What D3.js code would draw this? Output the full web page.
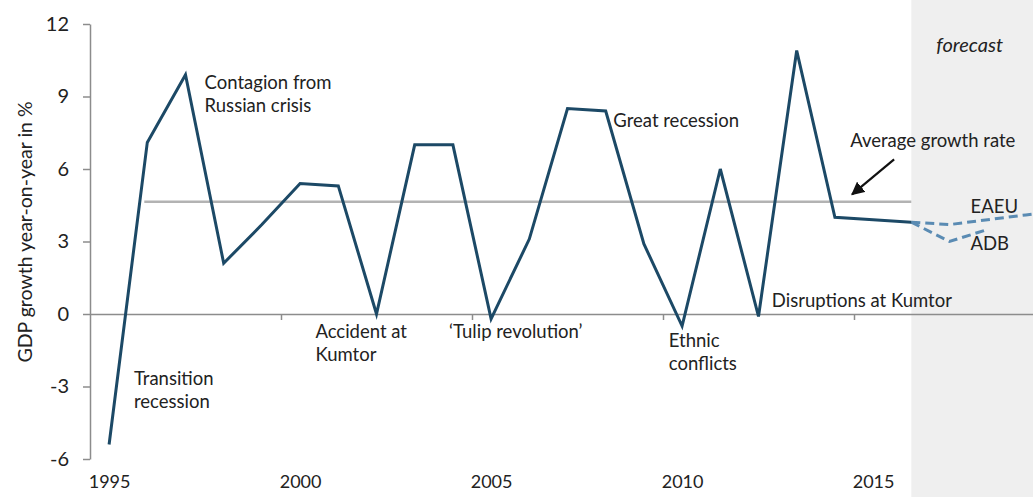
<!DOCTYPE html>
<html><head><meta charset="utf-8">
<script src="https://cdn.jsdelivr.net/npm/d3@7"></script>
<style>
body{margin:0;background:#fff;}
svg text{font-family:Lato,"Open Sans",sans-serif;fill:#222;}
</style></head>
<body><svg id="c" width="1033" height="497"></svg>
<script>
const years = [1995,1996,1997,1998,1999,2000,2001,2002,2003,2004,2005,2006,2007,2008,2009,2010,2011,2012,2013,2014,2015,2016];
const gdp = [-5.4,7.1,9.9,2.1,3.7,5.4,5.3,0.0,7.0,7.0,-0.2,3.1,8.5,8.4,2.9,-0.5,6.0,-0.1,10.9,4.0,3.9,3.8];
const eaeuYears = [2016,2017,2018,2019,2020];
const eaeu = [3.8,3.7,3.9,4.1,4.3];
const adbYears = [2016,2017,2018];
const adb = [3.8,3.0,3.5];
const avgYears = [1996,2016];
const avgValue = 4.65;
const yTicks = [-6,-3,0,3,6,9,12];
const xLabelYears = [1995,2000,2005,2010,2015];
const xTickBounds = [1999.5,2004.5,2009.5,2014.5];
const forecastStart = 2016;
const annotations = [
  {lines:["Contagion from","Russian crisis"], year:1997.5, value:9.3},
  {lines:["Great recession"], year:2008.2, value:7.75},
  {lines:["Average growth rate"], year:2014.4, value:6.9},
  {lines:["EAEU"], year:2017.55, value:4.2},
  {lines:["ADB"], year:2017.55, value:2.65},
  {lines:["Transition","recession"], year:1995.65, value:-2.95},
  {lines:["Accident at","Kumtor"], year:2000.4, value:-0.98},
  {lines:["\u2018Tulip revolution\u2019"], year:2003.9, value:-0.98},
  {lines:["Ethnic","conflicts"], year:2009.65, value:-1.37},
  {lines:["Disruptions at Kumtor"], year:2012.35, value:0.28}
];

const svg = d3.select("#c");
const x = d3.scaleLinear().domain([1994.5, 2019.5]).range([90, 1045]);
const y = d3.scaleLinear().domain([-6, 12]).range([459, 24]);

// forecast band
svg.append("rect").attr("x", x(forecastStart)).attr("y", 0)
  .attr("width", 1033 - x(forecastStart)).attr("height", 497).attr("fill", "#efefef");
svg.append("text").attr("x", x(forecastStart) + 25).attr("y", 52)
  .attr("font-style","italic").attr("font-size", 20).text("forecast");

// y axis
const ya = svg.append("g").attr("transform", `translate(${x(1994.5)},0)`)
  .call(d3.axisLeft(y).tickValues(yTicks).tickSize(7).tickSizeOuter(0).tickPadding(14).tickFormat(d => String(d)));
ya.selectAll("path,line").attr("stroke", "#8c8c8c").attr("stroke-width", 1.5);
ya.selectAll("text").attr("font-size", 20).attr("fill","#222");

// x axis at zero
const xa = svg.append("g").attr("transform", `translate(0,${y(0)})`)
  .call(d3.axisBottom(x).tickValues(xTickBounds).tickSize(6).tickSizeOuter(0).tickFormat(""));
xa.selectAll("path,line").attr("stroke", "#8c8c8c").attr("stroke-width", 1.5);

// x labels at bottom
const xl = svg.append("g").attr("transform", `translate(0,474)`)
  .call(d3.axisBottom(x).tickValues(xLabelYears).tickSize(0).tickPadding(0).tickFormat(d => String(d)));
xl.select(".domain").remove();
xl.selectAll("text").attr("font-size", 18).attr("fill","#222").attr("dy","0.75em");

// y title
svg.append("text").attr("transform", `translate(32,232) rotate(-90)`)
  .attr("text-anchor","middle").attr("font-size", 19.5).text("GDP growth year-on-year in %");

// average line
svg.append("line").attr("x1", x(avgYears[0]) - 3).attr("x2", x(avgYears[1]))
  .attr("y1", y(avgValue)).attr("y2", y(avgValue))
  .attr("stroke", "#b3b3b3").attr("stroke-width", 2.5);

const line = d3.line().x(d => x(d[0])).y(d => y(d[1]));
svg.append("path").datum(eaeuYears.map((d,i)=>[d,eaeu[i]])).attr("d", line)
  .attr("fill","none").attr("stroke","#5a8bb3").attr("stroke-width",3).attr("stroke-dasharray","9,5");
svg.append("path").datum(adbYears.map((d,i)=>[d,adb[i]])).attr("d", line)
  .attr("fill","none").attr("stroke","#5a8bb3").attr("stroke-width",3).attr("stroke-dasharray","9,5");
svg.append("path").datum(years.map((d,i)=>[d,gdp[i]])).attr("d", line)
  .attr("fill","none").attr("stroke","#1c4966").attr("stroke-width",3).attr("stroke-linejoin","miter");

// arrow
svg.append("defs").append("marker").attr("id","ah").attr("viewBox","0 0 10 10")
  .attr("refX",9).attr("refY",5).attr("markerWidth",6).attr("markerHeight",6).attr("orient","auto")
  .append("path").attr("d","M0,0L10,5L0,10z").attr("fill","#111");
svg.append("line").attr("x1", x(2015.55)).attr("y1", y(6.4)).attr("x2", x(2014.45)).attr("y2", y(4.95))
  .attr("stroke","#111").attr("stroke-width",2.2).attr("marker-end","url(#ah)");

// annotations
annotations.forEach(a => {
  const t = svg.append("text").attr("x", x(a.year)).attr("y", y(a.value)).attr("font-size", 18.5);
  a.lines.forEach((l,i) => t.append("tspan").attr("x", x(a.year)).attr("dy", i ? 23 : 0).text(l));
});
</script></body></html>
